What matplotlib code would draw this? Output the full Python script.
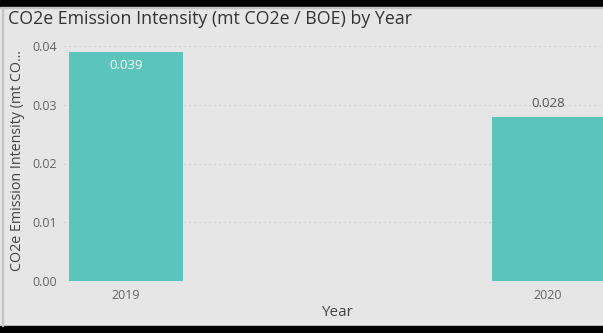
import matplotlib.pyplot as plt
from matplotlib.patches import Rectangle

# Emission intensity per year
years = ["2019", "2020"]
intensity = [0.039, 0.028]
y_ticks = [0.00, 0.01, 0.02, 0.03, 0.04]

bg = "#e6e6e6"
bar_color = "#5cc5bb"
plt.rcParams["font.family"] = ["Open Sans", "DejaVu Sans"]

fig = plt.figure(figsize=(6.03, 3.33), dpi=100, facecolor=bg)

# frame bands around the visual
fig.patches.append(Rectangle((0, 1 - 7 / 333), 1, 7 / 333, transform=fig.transFigure, color="black", zorder=0))
fig.patches.append(Rectangle((0, 0), 1, 7 / 333, transform=fig.transFigure, color="black", zorder=0))
fig.patches.append(Rectangle((0, 1 - 8 / 333), 1, 1 / 333, transform=fig.transFigure, color="#c4c4c4", zorder=0))
fig.patches.append(Rectangle((2 / 603, 7 / 333), 1 / 603, 1 - 15 / 333, transform=fig.transFigure, color="#c4c4c4", zorder=0))

ax = fig.add_axes([64 / 603, 52 / 333, 1 - 64 / 603, 235 / 333])
ax.set_facecolor(bg)

x = list(range(len(years)))
bars = ax.bar(x, intensity, width=0.268, color=bar_color, zorder=2)
ax.set_xlim(-0.147, 1.130)
ax.set_ylim(0, 0.04)

ax.set_yticks(y_ticks)
ax.set_yticklabels([f"{v:.2f}" for v in y_ticks])
ax.set_xticks(x)
ax.set_xticklabels(years)
ax.tick_params(length=0, colors="#666666", labelsize=9)
ax.tick_params(axis="y", pad=5)
ax.tick_params(axis="x", pad=6)

ax.grid(axis="y", color="#c8c8c8", linestyle=(0, (1, 3)), linewidth=0.9, zorder=1)
for s in ax.spines.values():
    s.set_visible(False)

# value labels
ax.text(x[0], intensity[0] - 0.0012, f"{intensity[0]:.3f}", ha="center", va="top", color="white", fontsize=9.5)
ax.text(x[1], intensity[1] + 0.0011, f"{intensity[1]:.3f}", ha="center", va="bottom", color="#555555", fontsize=9.5)

fig.text(8 / 603, 1 - 19 / 333, "CO2e Emission Intensity (mt CO2e / BOE) by Year", fontsize=12.8, color="#333333", va="center", ha="left")
fig.text(18 / 603, 1 - 161 / 333, "CO2e Emission Intensity (mt CO...", rotation=90, fontsize=10.3, color="#444444", va="center", ha="center")
fig.text(337 / 603, 1 - 313 / 333, "Year", fontsize=11, color="#444444", va="center", ha="center")

fig.savefig("out.png", dpi=100, facecolor=bg)
